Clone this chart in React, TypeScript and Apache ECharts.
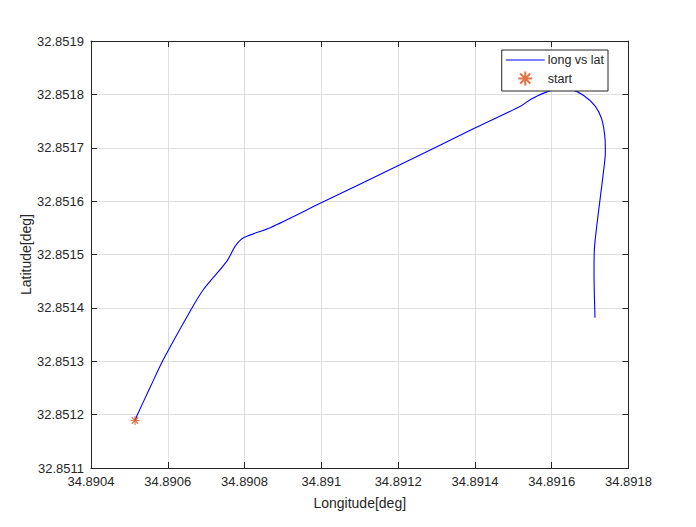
import React, { useEffect, useRef } from "react";
import * as echarts from "echarts";

const lonValues: number[] = [
  34.8905146, 34.890519, 34.8905538, 34.8905885, 34.8906582, 34.8906929, 34.890754, 34.8907757,
  34.8907974, 34.8908671, 34.891001, 34.8912021, 34.8914024, 34.8915198, 34.8915459,
  34.891587, 34.8916217, 34.8916478, 34.8916824, 34.8917128, 34.8917303, 34.8917389, 34.8917397,
  34.8917345, 34.8917259, 34.8917173, 34.8917111, 34.8917102, 34.8917128,
];
const latValues: number[] = [
  32.851189, 32.851197, 32.8512507, 32.8513032, 32.8513938, 32.8514345, 32.8514876, 32.8515158,
  32.8515315, 32.8515503, 32.8515972, 32.8516672, 32.8517379, 32.8517784, 32.851791,
  32.8518047, 32.8518111, 32.8518098, 32.8517985, 32.8517784, 32.8517535, 32.8517159, 32.851691,
  32.8516535, 32.8516034, 32.8515533, 32.8515096, 32.8514659, 32.8513814,
];
const startPoint: number[] = [34.8905146, 32.851189];

const xMin = 34.8904;
const xMax = 34.8918;
const xStep = 0.0002;
const yMin = 32.8511;
const yMax = 32.8519;
const yStep = 0.0001;

const seriesNames = ["long vs lat", "start"];

const FONT = "'Liberation Sans', Arial, Helvetica, sans-serif";
const AX = "#262626";
const STAR = "path://M0,-5L0,5M-5,0L5,0M-3.6,-3.6L3.6,3.6M-3.6,3.6L3.6,-3.6";
const LINE_ICON = "path://M0,0M0,6.4L39,6.4L39,7.6L0,7.6ZM39,14";

export default function App() {
  const ref = useRef<HTMLDivElement>(null);
  useEffect(() => {
    if (!ref.current) return;
    const chart = echarts.init(ref.current, undefined, { renderer: "svg" });
    const fmt = (v: number) => String(+v.toFixed(4));
    const baseAxis = {
      type: "value" as const,
      axisLine: { show: true, lineStyle: { color: AX, width: 1 } },
      axisTick: { show: true, inside: true, length: 6, lineStyle: { color: AX } },
    };
    chart.setOption({
      animation: false,
      backgroundColor: "#ffffff",
      textStyle: { fontFamily: FONT },
      grid: { left: 91, right: 67.5, top: 41, bottom: 59 },
      xAxis: [
        {
          ...baseAxis,
          min: xMin,
          max: xMax,
          interval: xStep,
          position: "bottom",
          name: "Longitude[deg]",
          nameLocation: "middle",
          nameGap: 28,
          nameTextStyle: { color: AX, fontSize: 14, fontFamily: FONT },
          axisLabel: { color: AX, fontSize: 13, margin: 7, fontFamily: FONT, formatter: fmt },
          splitLine: { show: true, lineStyle: { color: "#dedede", width: 1 } },
        },
        {
          ...baseAxis,
          min: xMin,
          max: xMax,
          interval: xStep,
          position: "top",
          axisLabel: { show: false },
          splitLine: { show: false },
        },
      ],
      yAxis: [
        {
          ...baseAxis,
          min: yMin,
          max: yMax,
          interval: yStep,
          position: "left",
          name: "Latitude[deg]",
          nameLocation: "middle",
          nameGap: 65,
          nameMoveOverlap: false,
          nameTextStyle: { color: AX, fontSize: 14, fontFamily: FONT, verticalAlign: "middle" },
          axisLabel: { color: AX, fontSize: 13, margin: 7, fontFamily: FONT, formatter: fmt },
          splitLine: { show: true, lineStyle: { color: "#dedede", width: 1 } },
        },
        {
          ...baseAxis,
          min: yMin,
          max: yMax,
          interval: yStep,
          position: "right",
          axisLabel: { show: false },
          splitLine: { show: false },
        },
      ],
      legend: {
        right: 88,
        top: 50,
        orient: "vertical",
        backgroundColor: "#ffffff",
        borderColor: AX,
        borderWidth: 1,
        borderRadius: 0,
        padding: [3, 4, 3, 4],
        itemWidth: 39,
        itemHeight: 14,
        itemGap: 2,
        textStyle: { color: AX, fontSize: 12.5, fontFamily: FONT, padding: [0, 0, 0, -2] },
        data: [
          { name: seriesNames[0], icon: LINE_ICON },
          { name: seriesNames[1] },
        ],
      },
      series: [
        {
          name: seriesNames[0],
          type: "line",
          data: lonValues.map((x, i) => [x, latValues[i]]),
          symbol: "none",
          smooth: 0.3,
          lineStyle: { color: "#0000ff", width: 1.1 },
          itemStyle: { color: "#0000ff" },
          z: 3,
        },
        {
          name: seriesNames[1],
          type: "scatter",
          data: [startPoint],
          symbol: STAR,
          symbolSize: 9,
          itemStyle: { color: "none", borderColor: "#d95319", borderWidth: 1.1 },
          z: 4,
        },
      ],
    });
    return () => chart.dispose();
  }, []);
  return <div ref={ref} style={{ width: 696, height: 527, position: "absolute", left: 0, top: 0 }} />;
}
